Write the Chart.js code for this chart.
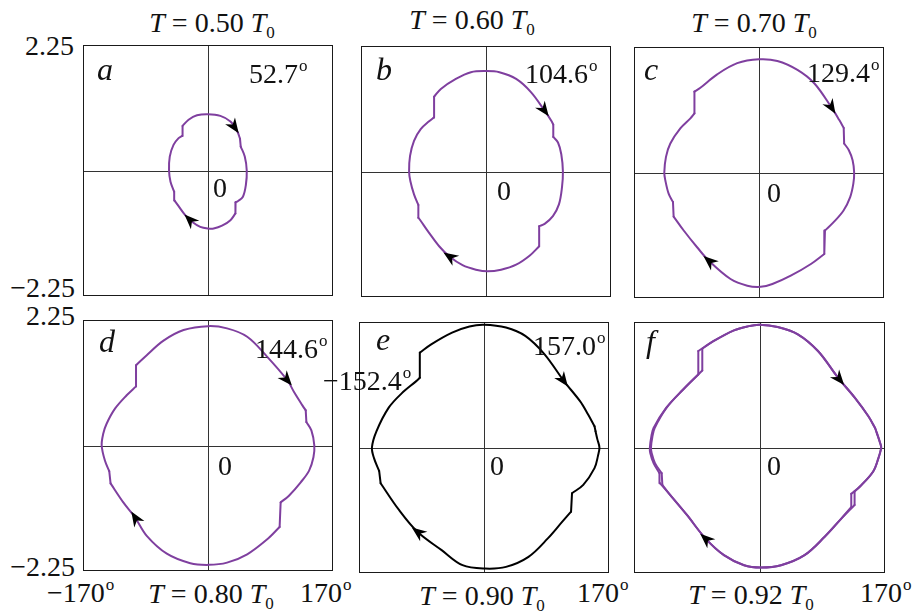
<!DOCTYPE html>
<html>
<head>
<meta charset="utf-8">
<script src="https://cdn.jsdelivr.net/npm/chart.js@4.4.0/dist/chart.umd.min.js"></script>
<style>
    body { margin: 0; background: #fff; }
    #fig { position: relative; width: 915px; height: 612px; overflow: hidden;
           font-family: "Liberation Serif", "Times New Roman", serif; color: #111; }
    #fig canvas { position: absolute; }
    .t  { position: absolute; font-size: 28px; line-height: 28px; white-space: nowrap; z-index: 2; }
    .c  { transform: translateX(-50%); }
    .r  { text-align: right; }
    .lt { position: absolute; font-size: 32px; line-height: 32px; font-style: italic; z-index: 2; }
    .o  { font-size: 17px; position: relative; top: -12px; margin-left: 1px; }
    .s  { font-size: 17px; position: relative; top: 6px; }
</style>
</head>
<body>
<div id="fig">
    <canvas id="pa" width="250" height="251" style="left:83px;top:45px"></canvas>
    <canvas id="pb" width="250" height="251" style="left:361px;top:46px"></canvas>
    <canvas id="pc" width="250" height="251" style="left:634px;top:47px"></canvas>
    <canvas id="pd" width="250" height="251" style="left:83px;top:320px"></canvas>
    <canvas id="pe" width="250" height="251" style="left:359px;top:322px"></canvas>
    <canvas id="pf" width="251" height="251" style="left:634px;top:322px"></canvas>

    <!-- заголовки столбцов / подписи снизу -->
    <div class="t c" style="left:212px;top:8.5px"><i>T</i> = 0.50 <i>T</i><span class="s">0</span></div>
    <div class="t c" style="left:472px;top:5.5px"><i>T</i> = 0.60 <i>T</i><span class="s">0</span></div>
    <div class="t c" style="left:754px;top:8.5px"><i>T</i> = 0.70 <i>T</i><span class="s">0</span></div>
    <div class="t c" style="left:211px;top:579.5px"><i>T</i> = 0.80 <i>T</i><span class="s">0</span></div>
    <div class="t c" style="left:482px;top:581.5px"><i>T</i> = 0.90 <i>T</i><span class="s">0</span></div>
    <div class="t c" style="left:751px;top:580.5px"><i>T</i> = 0.92 <i>T</i><span class="s">0</span></div>

    <!-- ось y -->
    <div class="t r" style="right:841px;top:31.5px">2.25</div>
    <div class="t r" style="right:840px;top:273.5px">−2.25</div>
    <div class="t r" style="right:840px;top:301.5px">2.25</div>
    <div class="t r" style="right:840px;top:552.5px">−2.25</div>

    <!-- ось x -->
    <div class="t" style="left:47px;top:578.5px">−170<span class="o">o</span></div>
    <div class="t" style="left:300px;top:578.5px">170<span class="o">o</span></div>
    <div class="t" style="left:577px;top:578.5px">170<span class="o">o</span></div>
    <div class="t" style="left:860px;top:578.5px">170<span class="o">o</span></div>

    <!-- буквы панелей -->
    <div class="lt" style="left:97px;top:53px">a</div>
    <div class="lt" style="left:376px;top:53px">b</div>
    <div class="lt" style="left:644px;top:53px">c</div>
    <div class="lt" style="left:99px;top:325px">d</div>
    <div class="lt" style="left:376px;top:323px">e</div>
    <div class="lt" style="left:646px;top:325px">f</div>

    <!-- амплитуды -->
    <div class="t" style="left:249px;top:59.5px">52.7<span class="o">o</span></div>
    <div class="t" style="left:525px;top:59.5px">104.6<span class="o">o</span></div>
    <div class="t" style="left:807px;top:58.5px">129.4<span class="o">o</span></div>
    <div class="t" style="left:255px;top:334.5px">144.6<span class="o">o</span></div>
    <div class="t" style="left:533px;top:331.5px">157.0<span class="o">o</span></div>
    <div class="t" style="left:323px;top:366.5px">−152.4<span class="o">o</span></div>

    <!-- нули в центре -->
    <div class="t" style="left:213px;top:173.5px">0</div>
    <div class="t" style="left:497px;top:176.5px">0</div>
    <div class="t" style="left:767px;top:178.5px">0</div>
    <div class="t" style="left:218px;top:451.5px">0</div>
    <div class="t" style="left:490px;top:451.5px">0</div>
    <div class="t" style="left:767px;top:451.5px">0</div>
</div>

<script>
// Фазовые траектории: угол (град) / угловая скорость.
// Каждая петля — 4 гладкие дуги, между дугами скачки (прямые отрезки).
// Обход по часовой стрелке, начиная с верхней дуги.
const X_RANGE = [-170, 170];
const Y_RANGE = [-2.25, 2.25];

const PURPLE = '#7f3f9f';

const loopA = [
    [[-34.6, 0.80], [-26.4, 0.91], [-15, 0.99], [0, 1.01], [16.8, 0.98], [30.5, 0.88], [39.6, 0.71], [43.5, 0.57]],
    [[44.5, 0.43], [50, 0.25], [52.7, 0], [51.5, -0.26], [47.5, -0.47], [40.5, -0.55], [37.5, -0.57]],
    [[37.3, -0.77], [30.5, -0.89], [19.1, -0.99], [7.7, -1.04], [0, -1.04], [-10.5, -1.01], [-21.8, -0.92],
     [-31, -0.80], [-40, -0.64], [-45.5, -0.54]],
    [[-46, -0.38], [-51, -0.20], [-53, 0], [-52, 0.25], [-46.9, 0.46], [-40, 0.58], [-35, 0.62]],
];

const loopB = [
    [[-70.6, 1.34], [-61.4, 1.48], [-41, 1.66], [-20.5, 1.78], [0, 1.80], [18.2, 1.78], [41, 1.66],
     [61.4, 1.42], [79.7, 1.09], [88.8, 0.91], [91.5, 0.84]],
    [[91.5, 0.62], [97.9, 0.52], [102.4, 0.31], [104.6, 0], [103.3, -0.29], [99.2, -0.59], [91, -0.80],
     [79.7, -0.94], [72.3, -0.98]],
    [[72.3, -1.34], [59.2, -1.51], [41, -1.67], [20.5, -1.76], [2.3, -1.79], [-13.7, -1.76], [-31.9, -1.68],
     [-50, -1.52], [-63.7, -1.34], [-77.4, -1.10], [-90.1, -0.86], [-92, -0.83]],
    [[-92, -0.60], [-97.9, -0.41], [-102.9, -0.17], [-104.6, 0], [-103.3, 0.28], [-97.9, 0.55], [-88.8, 0.76],
     [-77.4, 0.90], [-70.6, 0.97]],
];

const loopC = [
    [[-87.8, 1.45], [-79.7, 1.52], [-56.9, 1.76], [-29.6, 1.96], [0, 2.03], [25, 2.00], [52.3, 1.84],
     [75.1, 1.60], [97.9, 1.18], [109.2, 0.94], [115.2, 0.80]],
    [[115.8, 0.52], [122.2, 0.40], [127.3, 0.22], [129.4, 0], [128.3, -0.20], [124, -0.44], [115, -0.68],
     [101.5, -0.89], [89.7, -1.04]],
    [[88.8, -1.46], [70.6, -1.64], [43.2, -1.85], [18.2, -2.00], [2.3, -2.05], [-15.9, -2.03], [-38.7, -1.91],
     [-68.3, -1.58], [-84.2, -1.34], [-102.4, -1.04], [-116.1, -0.79]],
    [[-117, -0.53], [-122.9, -0.38], [-127.4, -0.14], [-128.8, 0], [-126.5, 0.28], [-120.6, 0.52], [-107, 0.79],
     [-93.3, 0.97], [-87.8, 1.06]],
];

const loopD = [
    [[-97.9, 1.44], [-83.3, 1.62], [-60.5, 1.88], [-33.2, 2.07], [0, 2.14], [25.9, 2.10], [53.3, 1.95],
     [80.6, 1.59], [107.9, 1.17], [117, 0.96], [128.4, 0.72], [132.9, 0.63]],
    [[133.8, 0.42], [140.6, 0.27], [144.6, 0], [143.4, -0.21], [137.5, -0.45], [126.1, -0.66], [110.1, -0.90],
     [98.8, -1.02]],
    [[97.4, -1.46], [80.6, -1.68], [53.3, -1.95], [25.9, -2.10], [0.9, -2.14], [-24.1, -2.11], [-56, -1.94],
     [-83.3, -1.62], [-99.2, -1.29], [-115.2, -1.02], [-132.5, -0.68]],
    [[-134.3, -0.46], [-140.2, -0.27], [-144.6, 0], [-142.5, 0.21], [-137.9, 0.39], [-126.5, 0.66],
     [-110.6, 0.90], [-97.9, 1.06]],
];

const loopE = [
    [[-87.3, 1.70], [-71.8, 1.85], [-43.4, 2.06], [-19.8, 2.17], [0, 2.20], [29.9, 2.15], [56.1, 2.00],
     [82.4, 1.67], [108.7, 1.19], [130.6, 0.83], [141.6, 0.59], [150.3, 0.38]],
    [[151.7, 0.29], [154.1, 0.15], [157.0, 0], [155, -0.15], [150.3, -0.37], [135, -0.67], [119.7, -0.82]],
    [[118.4, -1.15], [106.5, -1.33], [86.8, -1.63], [60.5, -1.96], [29.9, -2.14], [1.4, -2.17], [-29.2, -2.11],
     [-57.6, -1.84], [-90.6, -1.51], [-115.6, -1.12], [-140.6, -0.64]],
    [[-142.6, -0.42], [-149.6, -0.19], [-152.4, 0], [-146.3, 0.29], [-129.8, 0.71], [-112, 0.97],
     [-92.1, 1.19], [-87.3, 1.25]],
];

// при 0.92 T0 траектория двухоборотная — две близкие петли
const loopF1 = [
    [[-82.9, 1.73], [-61.9, 1.91], [-34.6, 2.10], [-16.4, 2.17], [0, 2.20], [24.6, 2.16], [51.9, 2.03],
     [79.2, 1.73], [106.5, 1.25], [129.3, 0.89], [147.5, 0.56], [156.6, 0.35]],
    [[158.9, 0.26], [163.4, 0.08], [164.8, 0], [161.1, -0.19], [154, -0.43], [136.1, -0.70], [128.8, -0.79]],
    [[128.8, -1.03], [111.1, -1.27], [88.3, -1.60], [61, -1.93], [29.1, -2.11], [1.8, -2.15], [-20.9, -2.11],
     [-48.2, -1.93], [-73.3, -1.63], [-98.3, -1.21], [-121.1, -0.85], [-131.6, -0.67]],
    [[-132.5, -0.46], [-141.6, -0.28], [-146.1, -0.10], [-147, 0], [-145, 0.20], [-142, 0.35], [-126, 0.71],
     [-103.4, 1.04], [-82.9, 1.31]],
];
const loopF2 = [
    [[-77.5, 1.77], [-61.9, 1.91], [-34.6, 2.10], [-16.4, 2.17], [0, 2.20], [24.6, 2.16], [51.9, 2.03],
     [79.2, 1.73], [106.5, 1.25], [129.3, 0.89], [147.5, 0.56], [156.6, 0.35]],
    [[159.5, 0.24], [163.4, 0.08], [164.8, 0], [161.1, -0.19], [154, -0.43], [136.1, -0.70], [124.3, -0.83]],
    [[124.3, -1.07], [111.1, -1.27], [88.3, -1.60], [61, -1.93], [29.1, -2.11], [1.8, -2.15], [-20.9, -2.11],
     [-48.2, -1.93], [-73.3, -1.63], [-98.3, -1.21], [-121.1, -0.85], [-134.8, -0.64]],
    [[-135.5, -0.46], [-143.5, -0.28], [-148, -0.10], [-148.5, 0], [-146.5, 0.20], [-143.5, 0.35],
     [-126.5, 0.71], [-103.4, 1.04], [-77.5, 1.38]],
];

// положения стрелок направления обхода
const arrowsA = [[35, 0.76], [-24.1, -0.86]];
const arrowsB = [[79.7, 1.09], [-50, -1.52]];
const arrowsC = [[97.9, 1.15], [-68.3, -1.58]];
const arrowsD = [[107.9, 1.17], [-99.2, -1.29]];
const arrowsE = [[108, 1.19], [-90.6, -1.51]];
const arrowsF = [[108.8, 1.22], [-73.3, -1.63]];


// рамка панели и оси через ноль
const framePlugin = {
    id: 'frame',
    beforeDatasetsDraw(chart) {
        const { ctx, chartArea: a, scales } = chart;
        const x0 = Math.round(scales.x.getPixelForValue(0)) + 0.5;
        const y0 = Math.round(scales.y.getPixelForValue(0)) + 0.5;
        ctx.save();
        ctx.lineWidth = 1;
        ctx.strokeStyle = '#333';
        ctx.beginPath();
        ctx.moveTo(x0, a.top); ctx.lineTo(x0, a.bottom);
        ctx.moveTo(a.left, y0); ctx.lineTo(a.right, y0);
        ctx.stroke();
        ctx.strokeStyle = '#1a1a1a';
        ctx.strokeRect(a.left + 0.5, a.top + 0.5, a.right - a.left - 1, a.bottom - a.top - 1);
        ctx.restore();
    },
};

// наконечники стрелок: ставятся на ближайший отрезок кривой, по направлению обхода
const arrowPlugin = {
    id: 'loopArrows',
    afterDatasetsDraw(chart, args, opts) {
        const { ctx, scales } = chart;
        const segs = [];
        chart.data.datasets.forEach(ds => {
            const p = ds.data.map(d => [scales.x.getPixelForValue(d.x), scales.y.getPixelForValue(d.y)]);
            for (let i = 0; i < p.length - 1; i++) segs.push([p[i], p[i + 1]]);
        });
        ctx.save();
        ctx.fillStyle = '#000';
        (opts.points || []).forEach(([vx, vy]) => {
            const px = scales.x.getPixelForValue(vx), py = scales.y.getPixelForValue(vy);
            let best = null;
            segs.forEach(([[ax, ay], [bx, by]]) => {
                const dx = bx - ax, dy = by - ay, len2 = dx * dx + dy * dy || 1;
                const t = Math.max(0, Math.min(1, ((px - ax) * dx + (py - ay) * dy) / len2));
                const qx = ax + t * dx, qy = ay + t * dy;
                const d = (qx - px) ** 2 + (qy - py) ** 2;
                if (!best || d < best.d) best = { d, qx, qy, ang: Math.atan2(dy, dx) };
            });
            ctx.save();
            ctx.translate(best.qx, best.qy);
            ctx.rotate(best.ang);
            ctx.beginPath();
            ctx.moveTo(7, 0);
            ctx.lineTo(-8, -6);
            ctx.lineTo(-3.5, 0);
            ctx.lineTo(-8, 6);
            ctx.closePath();
            ctx.fill();
            ctx.restore();
        });
        ctx.restore();
    },
};

const lineDs = (pts, color, tension) => ({
    data: pts.map(([x, y]) => ({ x, y })),
    showLine: true,
    borderColor: color,
    borderWidth: 2,
    borderCapStyle: 'round',
    borderJoinStyle: 'round',
    pointRadius: 0,
    tension,
    fill: false,
});

// дуги — сглаженные, скачки между концом дуги и началом следующей — прямые
function loopDatasets(arcs, color) {
    const out = [];
    arcs.forEach((arc, i) => {
        const next = arcs[(i + 1) % arcs.length];
        out.push(lineDs(arc, color, 0.35));
        out.push(lineDs([arc[arc.length - 1], next[0]], color, 0));
    });
    return out;
}

function makePanel(id, loops, color, arrows) {
    return new Chart(document.getElementById(id), {
        type: 'scatter',
        data: { datasets: loops.flatMap(arcs => loopDatasets(arcs, color)) },
        options: {
            responsive: false,
            animation: false,
            devicePixelRatio: 1,
            layout: { padding: 0 },
            events: [],
            plugins: {
                legend: { display: false },
                tooltip: { enabled: false },
                loopArrows: { points: arrows },
            },
            scales: {
                x: { type: 'linear', min: X_RANGE[0], max: X_RANGE[1], display: false },
                y: { type: 'linear', min: Y_RANGE[0], max: Y_RANGE[1], display: false },
            },
        },
        plugins: [framePlugin, arrowPlugin],
    });
}

makePanel('pa', [loopA], PURPLE, arrowsA);
makePanel('pb', [loopB], PURPLE, arrowsB);
makePanel('pc', [loopC], PURPLE, arrowsC);
makePanel('pd', [loopD], PURPLE, arrowsD);
makePanel('pe', [loopE], '#000', arrowsE);
makePanel('pf', [loopF1, loopF2], PURPLE, arrowsF);
</script>
</body>
</html>
